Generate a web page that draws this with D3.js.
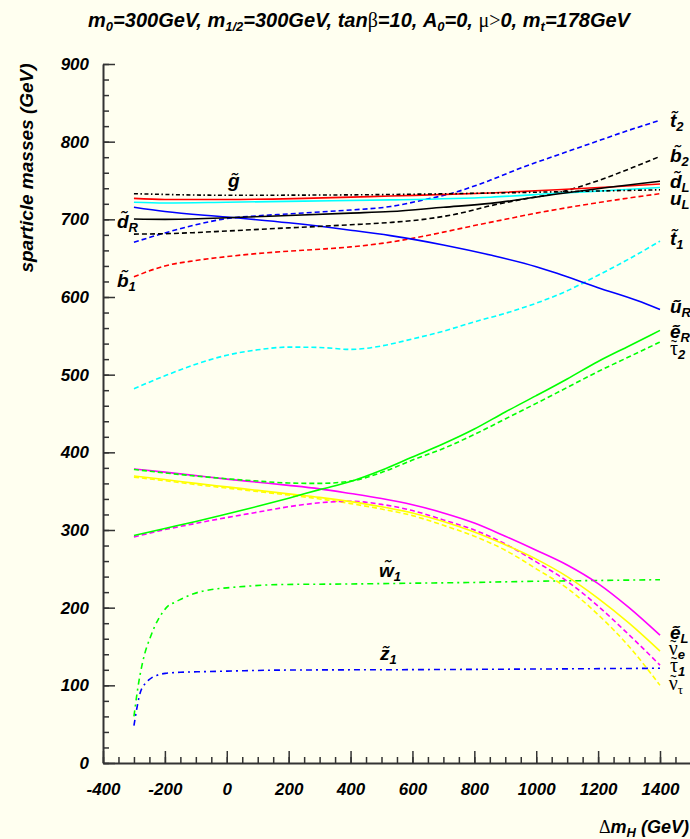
<!DOCTYPE html>
<html>
<head>
<meta charset="utf-8">
<script src="https://cdn.jsdelivr.net/npm/d3@7"></script>
<style>
  body { margin: 0; background: #fffff0; }
  svg { display: block; font-family: "Liberation Sans", Arial, sans-serif; }
</style>
</head>
<body>
<svg id="chart" width="690" height="839"></svg>
<script>
// axis ticks
const xTicks = [-400, -200, 0, 200, 400, 600, 800, 1000, 1200, 1400];
const yTicks = [0, 100, 200, 300, 400, 500, 600, 700, 800, 900];

// sparticle masses (GeV) against delta m_H (GeV)
const gluino = [[-300, 733], [0, 731], [400, 731.5], [800, 733.5], [1200, 736.5], [1400, 738]];
const dL = [[-300, 727], [-200, 725.5], [0, 725.5], [250, 727], [529, 730], [852, 734], [1067, 738], [1250, 742], [1400, 745.5]];
const uL = [[-300, 722], [-200, 721], [0, 722], [250, 723.5], [529, 725], [852, 728.5], [1067, 733.5], [1250, 737.5], [1400, 741]];
const dR = [[-300, 700.5], [-200, 700], [0, 702], [200, 705], [400, 708], [529, 710], [700, 715.5], [852, 720.5], [1056, 732], [1229, 741], [1400, 749]];
const uR = [[-300, 715.5], [-200, 710], [0, 703], [200, 695.5], [400, 686], [529, 679], [700, 667], [852, 654], [1000, 639], [1067, 630.5], [1200, 612], [1326, 595.5], [1400, 584]];
const t2 = [[-300, 670.5], [-200, 682.5], [-100, 693], [0, 701], [100, 704.5], [200, 707], [300, 709.5], [400, 712], [529, 716.5], [636, 725], [744, 735.5], [852, 750.5], [959, 767.5], [1067, 782.5], [1175, 797.5], [1283, 812.5], [1400, 827.5]];
const b2 = [[-300, 681], [-200, 681.5], [-100, 683], [0, 685], [200, 689], [400, 693], [529, 696], [636, 700], [744, 707], [852, 717.5], [959, 726], [1056, 733], [1132, 741], [1229, 754], [1326, 769], [1400, 781]];
const b1 = [[-300, 626], [-200, 640], [-100, 647], [0, 652], [100, 656], [200, 659], [300, 661.5], [400, 664.5], [500, 669], [600, 675.5], [700, 683.5], [800, 692], [900, 700], [1000, 708], [1100, 715], [1200, 721.5], [1300, 727.5], [1400, 733]];
const t1 = [[-300, 482], [-200, 498.5], [-100, 513.5], [0, 525], [100, 532], [200, 535.5], [300, 535], [400, 532.5], [500, 537], [600, 546], [700, 556], [800, 568], [900, 579], [1000, 592], [1100, 608], [1200, 628], [1300, 649], [1400, 672]];
const eR = [[-300, 293], [-200, 302], [-100, 311], [0, 320.5], [100, 330.5], [200, 341], [300, 352], [400, 362.5], [500, 377], [600, 394], [700, 411], [800, 430], [900, 452], [1000, 473], [1100, 494.5], [1200, 517], [1300, 537], [1400, 557]];
const tau2 = [[-300, 378], [-200, 373.5], [-100, 369.5], [0, 366], [100, 363], [200, 360.5], [300, 360], [400, 363], [500, 374], [600, 390], [700, 405], [800, 423], [900, 443], [1000, 463], [1100, 483.5], [1200, 504], [1300, 523], [1400, 542]];
const eL = [[-300, 378.5], [-200, 374.5], [-100, 370], [0, 365.5], [100, 361.5], [200, 357.5], [300, 353], [400, 347], [500, 340.5], [600, 332.5], [700, 322], [800, 309], [900, 292], [1000, 274], [1100, 255], [1200, 231], [1300, 200], [1400, 164.5]];
const nuE = [[-300, 369.5], [-200, 365], [-100, 360], [0, 355.5], [100, 351], [200, 346.5], [300, 342], [400, 336.5], [500, 330], [600, 322], [700, 311], [800, 297.5], [900, 281], [1000, 262.5], [1100, 240], [1200, 212], [1300, 180], [1400, 144]];
const tau1 = [[-300, 291], [-200, 300.5], [-100, 308.5], [0, 316], [100, 323], [200, 330], [300, 335], [400, 337], [500, 333], [600, 325], [700, 313], [800, 300], [900, 282], [1000, 259], [1100, 234], [1200, 202], [1300, 165], [1400, 126]];
const nuTau = [[-300, 368], [-200, 363.5], [-100, 358.5], [0, 354], [100, 349.5], [200, 345], [300, 340], [400, 334], [500, 327], [600, 318.5], [700, 306], [800, 292], [900, 274], [1000, 250], [1100, 225], [1200, 191], [1300, 150], [1400, 100]];
const w1 = [[-300, 60], [-296, 72], [-292, 84], [-288, 95], [-284, 105], [-280, 114], [-275, 124], [-270, 133], [-265, 141], [-258, 150], [-247, 162], [-235, 174], [-220, 186], [-205, 195], [-193, 201], [-170, 206.5], [-150, 210.5], [-107, 218], [-42, 223.8], [0, 225.5], [65, 227.6], [173, 229.8], [400, 230.5], [600, 231.5], [800, 232.5], [1000, 234], [1200, 235], [1400, 236]];
const z1 = [[-300, 48], [-296, 58], [-292, 67.5], [-288, 76], [-284, 84], [-279, 91.5], [-272, 98], [-263, 102.5], [-252, 107], [-242, 110], [-225, 113], [-199, 115.4], [-150, 116.8], [-96, 117.4], [0, 118.3], [173, 119.6], [600, 120.2], [1000, 121], [1400, 122]];

const W = 690, H = 839;
const svg = d3.select("#chart");
svg.append("rect").attr("width", W).attr("height", H).attr("fill", "#fffff0");

const x = d3.scaleLinear([-400, 1400], [103, 660]);
const y = d3.scaleLinear([0, 900], [763, 64]);

const DASH = "5,3";
const DASHDOT = "4,2.5,1.5,2.5";
const DASHDOT2 = "6,4,2,4";

const series = [
  {data: z1, color: "#0000ff", dash: DASHDOT2},
  {data: w1, color: "#00ff00", dash: DASHDOT2},
  {data: nuTau, color: "#ffff00", dash: DASH},
  {data: tau1, color: "#ff00ff", dash: DASH},
  {data: nuE, color: "#ffff00", dash: null},
  {data: eL, color: "#ff00ff", dash: null},
  {data: tau2, color: "#00ff00", dash: DASH},
  {data: eR, color: "#00ff00", dash: null},
  {data: t1, color: "#00ffff", dash: DASH},
  {data: b1, color: "#ff0000", dash: DASH},
  {data: uR, color: "#0000ff", dash: null},
  {data: t2, color: "#0000ff", dash: DASH},
  {data: b2, color: "#000000", dash: DASH},
  {data: uL, color: "#00ffff", dash: null},
  {data: dL, color: "#ff0000", dash: null},
  {data: dR, color: "#000000", dash: null},
  {data: gluino, color: "#000000", dash: DASHDOT}
];

const line = d3.line()
  .x(d => x(d[0]))
  .y(d => y(d[1]))
  .curve(d3.curveMonotoneX);

svg.append("g").selectAll("path")
  .data(series)
  .join("path")
  .attr("d", d => line(d.data))
  .attr("fill", "none")
  .attr("stroke", d => d.color)
  .attr("stroke-width", 1.6)
  .attr("stroke-dasharray", d => d.dash);

// axes: ticks point inwards, labels drawn by separate axes
const axisColor = "#333";
const xMinor = d3.range(-400, 1601, 50);
const yMinor = d3.range(0, 901, 20);
const xFull = d3.scaleLinear([-400, 1600], [103, x(1600)]);

svg.append("g").attr("transform", `translate(0,${y(0)})`)
  .call(d3.axisTop(xFull).tickValues(xMinor).tickSize(6).tickSizeOuter(0).tickFormat(""))
  .call(g => g.select(".domain").attr("stroke-width", 2));
svg.append("g").attr("transform", `translate(0,${y(0)})`)
  .call(d3.axisTop(x).tickValues(xTicks).tickSize(12).tickFormat(""))
  .call(g => g.select(".domain").remove());
svg.append("g").attr("transform", `translate(0,${y(0)})`)
  .call(d3.axisBottom(x).tickValues(xTicks).tickSize(0).tickPadding(20).tickFormat(d => String(d)))
  .call(g => g.select(".domain").remove());

svg.append("g").attr("transform", `translate(${x(-400)},0)`)
  .call(d3.axisRight(y).tickValues(yMinor).tickSize(6).tickSizeOuter(0).tickFormat(""))
  .call(g => g.select(".domain").attr("stroke-width", 2));
svg.append("g").attr("transform", `translate(${x(-400)},0)`)
  .call(d3.axisRight(y).tickValues(yTicks).tickSize(12).tickFormat(""))
  .call(g => g.select(".domain").remove());
svg.append("g").attr("transform", `translate(${x(-400)},0)`)
  .call(d3.axisLeft(y).tickValues(yTicks).tickSize(0).tickPadding(14).tickFormat(d => String(d)))
  .call(g => g.select(".domain").remove());

svg.selectAll(".tick line").attr("stroke", axisColor).attr("stroke-width", 1.5);
svg.selectAll(".domain").attr("stroke", axisColor);
svg.selectAll(".tick text")
  .attr("font-family", "Liberation Sans, Arial, sans-serif")
  .attr("font-size", 17)
  .attr("font-weight", "bold")
  .attr("font-style", "italic")
  .attr("fill", "#000");

// text with subscripts and symbol-font pieces
function rich(text, parts, subSize, subDy) {
  let off = 0;
  parts.forEach(([str, kind]) => {
    const want = kind === "sub" ? subDy : 0;
    const ts = text.append("tspan").text(str);
    if (want !== off) { ts.attr("dy", want - off); off = want; }
    if (kind === "sub") ts.attr("font-size", subSize);
    if (kind === "sym") ts.attr("font-family", "Liberation Serif, serif")
      .attr("font-weight", "normal").attr("font-style", "normal");
  });
}

const title = svg.append("text")
  .attr("x", 359).attr("y", 27)
  .attr("text-anchor", "middle")
  .attr("font-size", 20).attr("font-weight", "bold").attr("font-style", "italic");
rich(title, [["m"], ["0", "sub"], ["=300GeV, m"], ["1/2", "sub"], ["=300GeV, tan"], ["β", "sym"],
  ["=10, A"], ["0", "sub"], ["=0, "], ["μ>", "sym"], ["0, m"], ["t", "sub"], ["=178GeV"]], 13, 4);

const xTitle = svg.append("text")
  .attr("x", 689).attr("y", 833)
  .attr("text-anchor", "end")
  .attr("font-size", 18).attr("font-weight", "bold").attr("font-style", "italic");
rich(xTitle, [["Δ", "sym"], ["m"], ["H", "sub"], [" (GeV)"]], 13, 4);

svg.append("text")
  .attr("transform", "translate(33,168) rotate(-90)")
  .attr("text-anchor", "middle")
  .attr("font-size", 19).attr("font-weight", "bold").attr("font-style", "italic")
  .text("sparticle masses (GeV)");

// curve labels, placed in data units
const labels = [
  {base: "t", sub: "2", at: [1432, 819]},
  {base: "b", sub: "2", at: [1432, 774]},
  {base: "d", sub: "L", at: [1432, 740]},
  {base: "u", sub: "L", at: [1432, 718.5], noTilde: true},
  {base: "t", sub: "1", at: [1432, 667]},
  {base: "u", sub: "R", at: [1432, 579.5]},
  {base: "e", sub: "R", at: [1432, 547]},
  {base: "τ", sub: "2", at: [1432, 525], greek: true},
  {base: "e", sub: "L", at: [1432, 160]},
  {base: "ν", sub: "e", at: [1428, 139], greek: true},
  {base: "τ", sub: "1", at: [1432, 117], greek: true},
  {base: "ν", sub: "τ", at: [1428, 94], greek: true, subGreek: true},
  {base: "d", sub: "R", at: [-355, 689]},
  {base: "b", sub: "1", at: [-355, 613]},
  {base: "g", sub: "", at: [4, 741.5]},
  {base: "w", sub: "1", at: [492, 239.5]},
  {base: "z", sub: "1", at: [495, 132.5]}
];

const labelG = svg.append("g")
  .attr("font-size", 19).attr("font-weight", "bold").attr("font-style", "italic");
labels.forEach(l => {
  const px = x(l.at[0]), py = y(l.at[1]);
  const t = labelG.append("text").attr("x", px).attr("y", py);
  // latin letters take a combining tilde; greek ones get a tilde placed by hand
  const b = t.append("tspan").text(l.noTilde || l.greek ? l.base : l.base + "\u0303");
  if (l.greek) b.attr("font-family", "Liberation Serif, serif").attr("font-size", 20)
    .attr("font-weight", "normal").attr("font-style", "normal");
  if (l.sub) {
    const s = t.append("tspan").attr("dy", 4).attr("font-size", 13).text(l.sub);
    if (l.subGreek) s.attr("font-family", "Liberation Serif, serif")
      .attr("font-weight", "normal").attr("font-style", "normal");
  }
  if (l.greek) {
    const w = b.node().getComputedTextLength();
    const tl = t.append("tspan").attr("font-size", 11).attr("font-style", "normal").text("~");
    const tw = tl.node().getComputedTextLength();
    tl.attr("x", px + w / 2 - tw / 2).attr("y", py - 10);
  }
});
</script>
</body>
</html>
